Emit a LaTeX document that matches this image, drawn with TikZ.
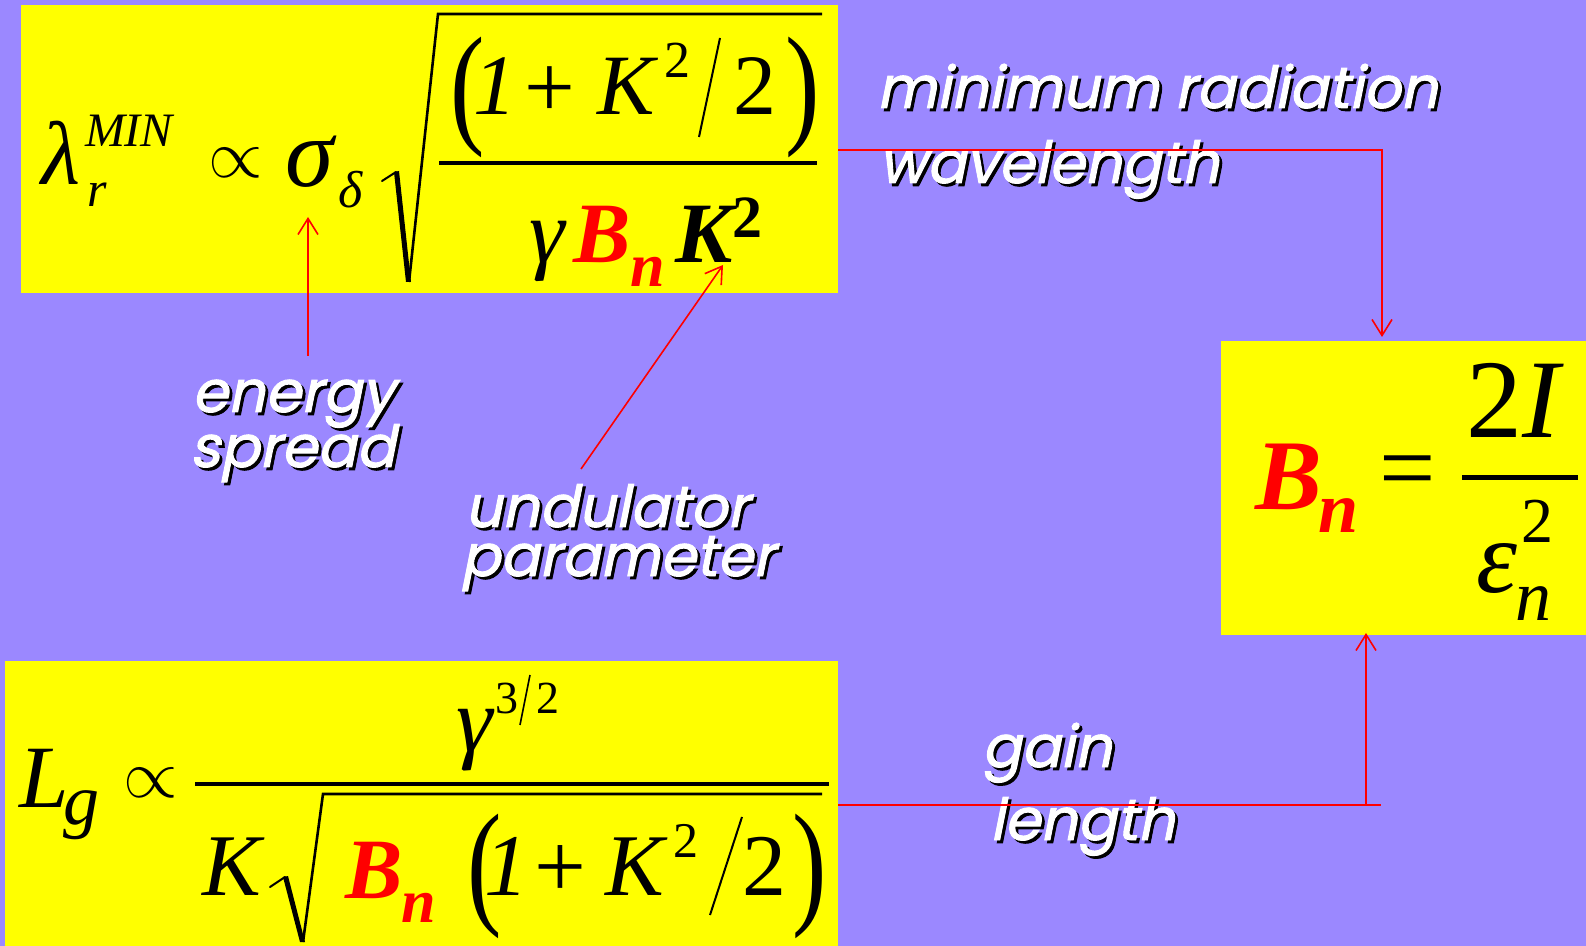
\documentclass[tikz,border=0pt]{standalone}
\usepackage{graphicx}
\usepackage{fontspec}
\usetikzlibrary{arrows.meta}
\newfontfamily\tms{Liberation Serif}
\newfontfamily\lblfont[FakeSlant=0.2,FakeBold=1.6]{Poppins}
\definecolor{bgc}{RGB}{155,136,255}
\definecolor{yel}{RGB}{255,255,0}
\definecolor{rd}{RGB}{255,0,0}
\newcommand\fs[1]{\fontsize{#1}{#1}\selectfont}
\tikzset{
  gl/.style={inner sep=0pt, outer sep=0pt, anchor=base},
  it/.style={font=\tms\itshape\fs{#1}},
  bi/.style={font=\tms\bfseries\itshape\fs{#1}},
  up/.style={font=\tms\fs{#1}},
  bu/.style={font=\tms\bfseries\fs{#1}},
  ybox/.style={fill=yel, draw=none, inner sep=0pt, outer sep=0pt},
  lbl/.style={inner sep=0pt, outer sep=0pt, anchor=base west, font=\lblfont\fs{29}},
  arr/.style={draw=rd, line width=0.8pt, -{Straight Barb[length=8pt,width=10pt,line width=0.8pt]}},
  rline/.style={draw=rd, line width=0.8pt},
  paren/.style={inner sep=0pt, outer sep=0pt, anchor=center, font=\tms\fs{43}},
  propto/.style={inner sep=0pt, outer sep=0pt, anchor=center},
}
\newcommand\shlabel[4]{%
  \node[lbl, text=black, xshift=1.4pt, yshift=-1.4pt] (#1s) at (#2,#3) {#4};
  \node[lbl, text=white] (#1) at (#2,#3) {#4};}
\newcommand\bigprop{\scalebox{3.5}[3.4]{$\propto$}}
\begin{document}
\begin{tikzpicture}[x=0.5pt,y=-0.5pt]
\fill[bgc] (0,0) rectangle (1586,946);
\useasboundingbox (0,0) rectangle (1586,946);

% boxes
\node[ybox, minimum width=408.5pt, minimum height=144pt] (topbox) at (429.5,149) {};
\node[ybox, minimum width=182.5pt, minimum height=147pt] (rbox) at (1403.5,488) {};
\node[ybox, minimum width=416.5pt, minimum height=142.5pt] (botbox) at (421.5,803.5) {};

% ---------- top equation ----------
\node[gl,it=45] (lam) at (61,185) {λ};
\node[gl,it=24] (min) at (129,147) {MIN};
\node[gl,it=25] (rsub) at (97,207) {r};
\node[propto] (prop1) at (236,163) {\bigprop};
\node[gl,it=49] (sig) at (310,187) {σ};
\node[gl,it=26] (del) at (351,208) {δ};
% radical
\draw[line width=1pt, line cap=round] (382,181) -- (396,172);
\fill (394,172) -- (399,171) -- (411,282) -- (406,282) -- cycle;
\draw[line width=1.3pt] (409,282) -- (438,14) -- (822,14);
\node[paren] (lp1) at (468,97) {\scalebox{1.2}[1.55]{(}};
\node[gl,it=43] (one1) at (495,115) {1};
\node[gl,up=45, anchor=center] (plus1) at (550,92) {+};
\node[gl,it=43] (K1) at (626,115) {K};
\node[gl,up=26] (sqa) at (677,78) {2};
\draw[line width=1pt] (699,137) -- (720,38);
\node[gl,up=43] (two1) at (755,115) {2};
\node[paren] (rp1) at (803,97) {\scalebox{1.2}[1.55]{)}};
\draw[line width=2pt] (439,163) -- (817,163);
\node[gl,it=45] (gam1) at (547,263) {γ};
\node[gl,bi=43,text=rd] (B1) at (602,263) {B};
\node[gl,bi=31,text=rd] (n1) at (648,287) {n};
\node[gl,bi=43] (K2) at (704,263) {K};
\node[gl,bu=30] (sqb) at (747,238) {2};

% ---------- bottom equation ----------
\node[gl,it=44.5] (L) at (44,807) {L};
\node[gl,it=36] (gsub) at (81,824) {g};
\node[propto] (prop2) at (151,783) {\bigprop};
\draw[line width=2pt] (195,784) -- (829,784);
\node[gl,it=46] (gam2) at (475,751) {γ};
\node[gl,up=23] (three) at (507,713) {3};
\draw[line width=0.8pt] (520,725) -- (530,675);
\node[gl,up=23] (two2) at (548,713) {2};
\node[gl,it=44] (K3) at (232,895) {K};
\draw[line width=1pt, line cap=round] (270,887) -- (285,877);
\fill (283,877) -- (288,876) -- (305,942) -- (300,942) -- cycle;
\draw[line width=1.3pt] (303,942) -- (323,794) -- (822,794);
\node[gl,bi=43,text=rd] (B2) at (374,898) {B};
\node[gl,bi=31,text=rd] (n2) at (419,922) {n};
\node[paren] (lp2) at (485,876) {\scalebox{1.2}[1.6]{(}};
\node[gl,it=44] (one2) at (506,895) {1};
\node[gl,up=46, anchor=center] (plus2) at (560,872) {+};
\node[gl,it=44] (K4) at (635,895) {K};
\node[gl,up=25] (sqc) at (686,857) {2};
\draw[line width=1pt] (710,915) -- (742,817);
\node[gl,up=44] (two3) at (764,895) {2};
\node[paren] (rp2) at (810,876) {\scalebox{1.2}[1.6]{)}};

% ---------- right equation ----------
\node[gl,bi=50,text=rd] (B3) at (1289,510) {B};
\node[gl,bi=36,text=rd] (n3) at (1339,533) {n};
\node[gl,up=50, anchor=center] (eq) at (1408,479) {=};
\node[inner sep=0pt, outer sep=0pt, anchor=base west, font=\tms\fs{56}] (twoI) at (1466,438) {2\itshape I};
\draw[line width=2.5pt] (1462,478) -- (1578,478);
\node[gl,it=52] (eps) at (1497,593) {ε};
\node[gl,up=32] (sqd) at (1537,543) {2};
\node[gl,it=36] (n4) at (1533,620) {n};

% ---------- labels ----------
\shlabel{l1}{877}{108}{minimum radiation}
\shlabel{l2}{879}{183}{wavelength}
\shlabel{l3}{192}{412}{energy}
\shlabel{l4}{190}{467}{spread}
\shlabel{l5}{465}{527}{undulator}
\shlabel{l6}{461}{576}{parameter}
\shlabel{l7}{982}{767}{gain}
\shlabel{l8}{990}{840}{length}

% ---------- connectors ----------
\coordinate (c1) at (1382,150);
\coordinate (c2) at (1366,805);
\coordinate (c3) at (1381,805);
\coordinate (e0) at (308,356);
\coordinate (e1) at (308,217);
\coordinate (u0) at (581,469);
\coordinate (u1) at (723,265);
\draw[arr, shorten >=2pt] (topbox.east |- c1) -| (c1 |- rbox.north);
\draw[rline] (botbox.east |- c3) -- (c3);
\draw[arr, shorten >=-1pt] (c2) -- (c2 |- rbox.south);
\draw[arr] (e0) -- (e1);
\draw[arr] (u0) -- (u1);
\end{tikzpicture}
\end{document}
